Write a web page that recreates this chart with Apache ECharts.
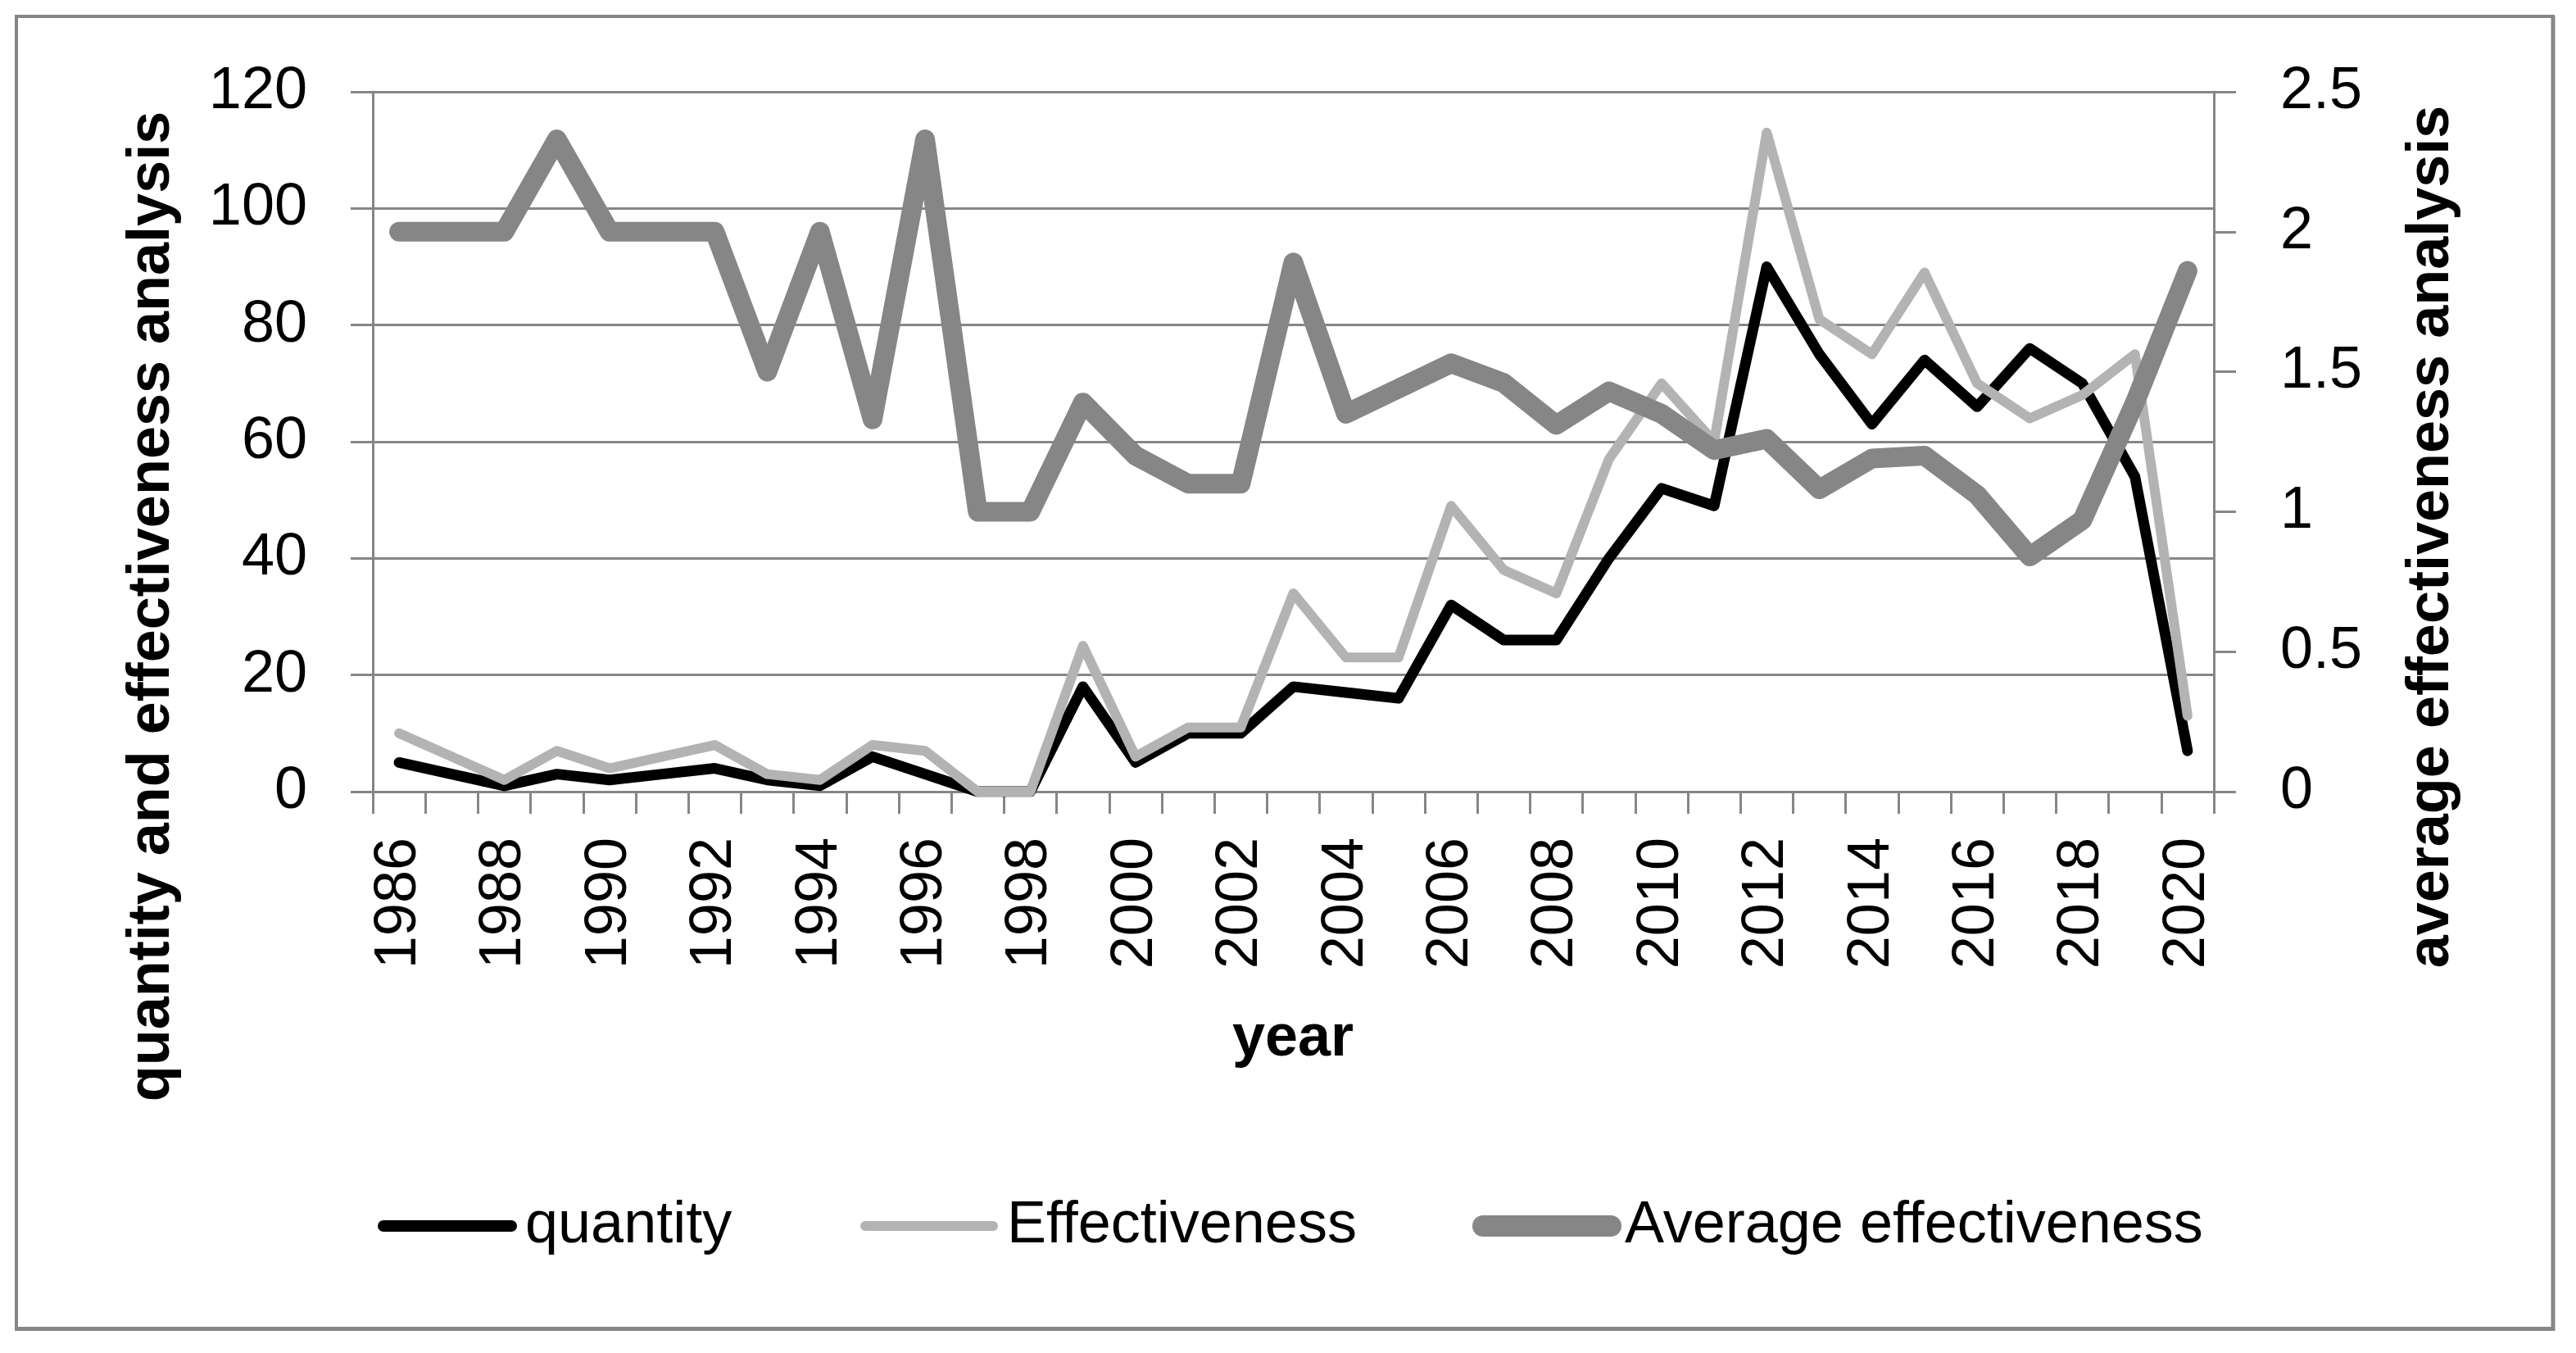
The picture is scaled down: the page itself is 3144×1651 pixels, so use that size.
<!DOCTYPE html>
<html>
<head>
<meta charset="utf-8">
<script src="https://cdn.jsdelivr.net/npm/echarts@6/dist/echarts.min.js"></script>
<style>
html,body{margin:0;padding:0;background:#ffffff;}
#chart{width:3144px;height:1651px;}
</style>
</head>
<body>
<div id="chart"></div>
<script>
// ---- data ----
const years = ['1986','1987','1988','1989','1990','1991','1992','1993','1994','1995',
  '1996','1997','1998','1999','2000','2001','2002','2003','2004','2005',
  '2006','2007','2008','2009','2010','2011','2012','2013','2014','2015',
  '2016','2017','2018','2019','2020'];
const quantity = [5,3,1,3,2,3,4,2,1,6, 3,0,0,18,5,10,10,18,17,16, 32,26,26,40,52,49,90,75,63,74, 66,76,70,54,7];
const effectiveness = [10,6,2,7,4,6,8,3,2,8, 7,0,0,25,6,11,11,34,23,23, 49,38,34,57,70,60,113,81,75,89, 70,64,68,75,13];
const averageEffectiveness = [2,2,2,2.33,2,2,2,1.5,2,1.33, 2.33,1,1,1.39,1.2,1.1,1.1,1.89,1.35,1.44, 1.53,1.46,1.31,1.43,1.35,1.22,1.26,1.08,1.19,1.2, 1.06,0.84,0.97,1.39,1.86];
const seriesNames = ['quantity','Effectiveness','Average effectiveness'];
const leftAxisRange = [0, 120, 20];
const rightAxisRange = [0, 2.5, 0.5];
const axisTitles = ['quantity and effectiveness analysis','average effectiveness analysis','year'];

// ---- chart ----
const FONT = 'Liberation Sans';
const GRID = '#868686';
const chart = echarts.init(document.getElementById('chart'), null, {renderer:'canvas'});

function legendItem(name, left, width) {
  return {
    data: [name], left: left, top: 1455, orient: 'horizontal',
    itemWidth: 156, itemHeight: 80, itemGap: 0,
    lineStyle: {width: width, cap: 'round'},
    itemStyle: {opacity: 0},
    textStyle: {fontFamily: FONT, fontSize: 72, color: '#000', padding: [0,0,0,12]},
    selectedMode: false
  };
}

const option = {
  backgroundColor: '#ffffff',
  animation: false,
  grid: {left: 455, right: 442, top: 112, bottom: 685, containLabel: false, outerBoundsMode: 'none'},
  xAxis: {
    type: 'category', data: years, boundaryGap: true,
    axisLine: {show: true, lineStyle: {color: GRID, width: 3}},
    axisTick: {show: true, interval: 0, length: 27, lineStyle: {color: GRID, width: 3}},
    axisLabel: {interval: 1, rotate: 90, margin: 56, fontFamily: FONT, fontSize: 72, color: '#000'},
    splitLine: {show: false}
  },
  yAxis: [
    {
      type: 'value', min: leftAxisRange[0], max: leftAxisRange[1], interval: leftAxisRange[2],
      position: 'left',
      axisLine: {show: true, lineStyle: {color: GRID, width: 3}},
      axisTick: {show: true, length: 27, lineStyle: {color: GRID, width: 3}},
      axisLabel: {margin: 80, fontFamily: FONT, fontSize: 72, color: '#000'},
      splitLine: {show: true, lineStyle: {color: GRID, width: 3}}
    },
    {
      type: 'value', min: rightAxisRange[0], max: rightAxisRange[1], interval: rightAxisRange[2],
      position: 'right',
      axisLine: {show: true, lineStyle: {color: GRID, width: 3}},
      axisTick: {show: true, length: 27, lineStyle: {color: GRID, width: 3}},
      axisLabel: {margin: 81, fontFamily: FONT, fontSize: 72, color: '#000'},
      splitLine: {show: false}
    }
  ],
  legend: [
    legendItem(seriesNames[0], 456, 14),
    legendItem(seriesNames[1], 1045, 12),
    legendItem(seriesNames[2], 1792, 26)
  ],
  series: [
    {name: seriesNames[0], type: 'line', yAxisIndex: 0, data: quantity, symbol: 'none', showSymbol: false,
     lineStyle: {color: '#000000', width: 13, cap: 'round', join: 'round'}, itemStyle: {color: '#000000'}, z: 3},
    {name: seriesNames[1], type: 'line', yAxisIndex: 0, data: effectiveness, symbol: 'none', showSymbol: false,
     lineStyle: {color: '#b3b3b3', width: 12, cap: 'round', join: 'round'}, itemStyle: {color: '#b3b3b3'}, z: 4},
    {name: seriesNames[2], type: 'line', yAxisIndex: 1, data: averageEffectiveness, symbol: 'none', showSymbol: false,
     lineStyle: {color: '#868686', width: 24, cap: 'round', join: 'round'}, itemStyle: {color: '#868686'}, z: 5}
  ],
  graphic: [
    {type: 'rect', shape: {x: 20, y: 20, width: 3096, height: 1601},
     style: {fill: 'none', stroke: GRID, lineWidth: 4}, silent: true, z: 0},
    {type: 'line', shape: {x1: 3116, y1: 20, x2: 3116, y2: 1624},
     style: {stroke: GRID, lineWidth: 5}, silent: true, z: 0},
    {type: 'line', shape: {x1: 18, y1: 1621.5, x2: 3118, y2: 1621.5},
     style: {stroke: GRID, lineWidth: 5}, silent: true, z: 0},
    {type: 'text', x: 186, y: 740, rotation: Math.PI / 2,
     style: {text: axisTitles[0], font: 'bold 72px "Liberation Sans"', fill: '#000', align: 'center', verticalAlign: 'middle'}},
    {type: 'text', x: 2968, y: 655, rotation: Math.PI / 2,
     style: {text: axisTitles[1], font: 'bold 72px "Liberation Sans"', fill: '#000', align: 'center', verticalAlign: 'middle'}},
    {type: 'text', x: 1578, y: 1268,
     style: {text: axisTitles[2], font: 'bold 72px "Liberation Sans"', fill: '#000', align: 'center', verticalAlign: 'middle'}}
  ]
};
chart.setOption(option);
</script>
</body>
</html>
